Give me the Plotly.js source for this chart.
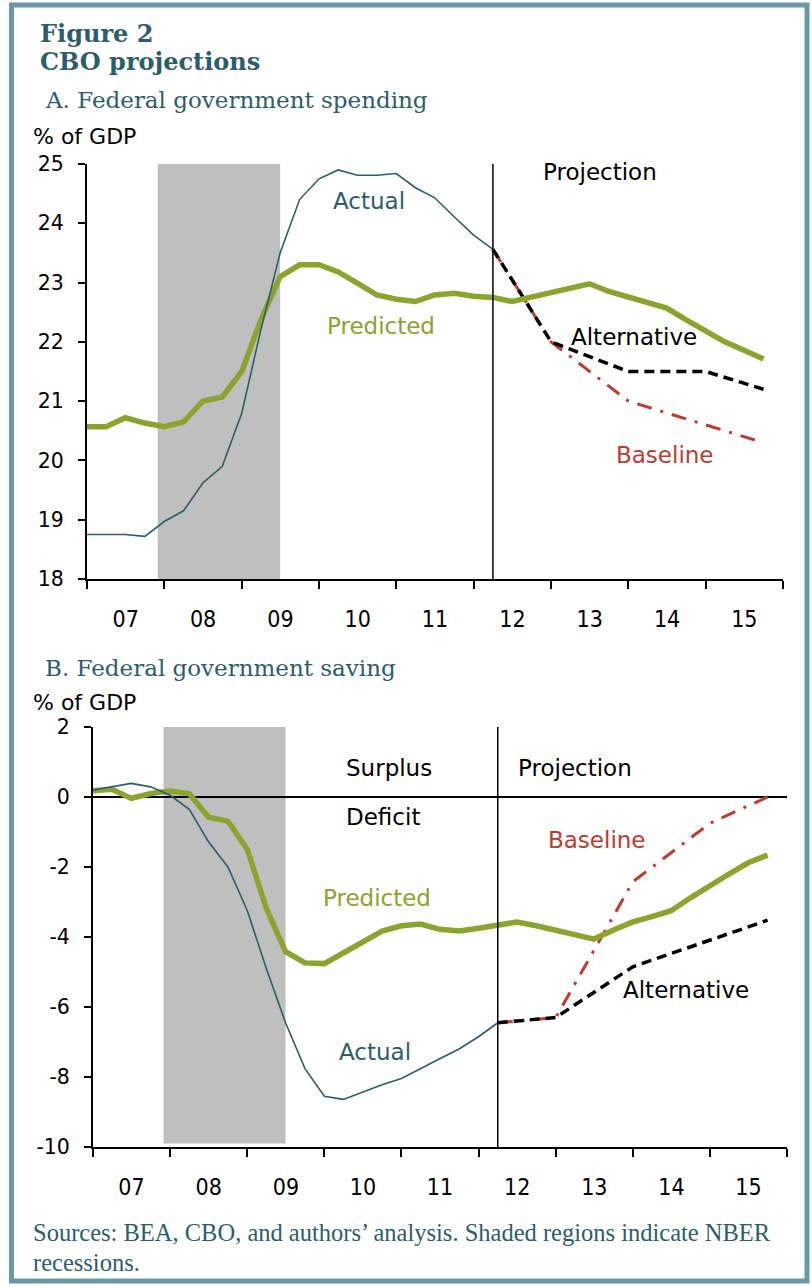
<!DOCTYPE html>
<html>
<head>
<meta charset="utf-8">
<script src="https://cdn.plot.ly/plotly-3.0.1.min.js"></script>
<style>
html,body{margin:0;padding:0;background:#fff;}
#chart{width:812px;height:1287px;}
</style>
</head>
<body>
<div id="chart"></div>
<script>
// ---- Data (percent of GDP), quarterly from 2007Q1 ----
const quarterStarts = (function(){ const a=[]; for(let y=2007;y<=2015;y++){ for(const m of ['01','04','07','10']) a.push(y+'-'+m+'-01'); } return a; })();
const projectionDates = ['2012-04-01','2013-01-01','2014-01-01','2015-01-01','2015-10-01'];
const recession = ['2007-12-01','2009-07-01'];
const projectionStart = '2012-04-01';

// Panel A: Federal government spending
const spendActual = [18.75,18.75,18.75,18.72,18.97,19.15,19.62,19.9,20.8,22.2,23.5,24.4,24.75,24.9,24.81,24.81,24.84,24.6,24.43,24.11,23.8,23.56];
const spendPredicted = [20.57,20.57,20.72,20.63,20.57,20.65,21.0,21.07,21.5,22.37,23.1,23.3,23.3,23.18,22.99,22.79,22.72,22.68,22.79,22.82,22.77,22.75,22.68,22.75,22.82,22.9,22.98,22.85,22.76,22.66,22.57,22.37,22.19,22.0,21.86,21.71];
const spendAlternative = [23.56,22.0,21.5,21.5,21.2];
const spendBaseline = [23.56,22.0,21.0,20.6,20.3];
const spendTicks = [18,19,20,21,22,23,24,25];

// Panel B: Federal government saving
const saveActual = [0.2,0.29,0.39,0.29,0.05,-0.35,-1.28,-2.0,-3.25,-4.9,-6.45,-7.76,-8.55,-8.64,-8.42,-8.22,-8.04,-7.75,-7.48,-7.2,-6.85,-6.45];
const savePredicted = [0.18,0.22,-0.04,0.1,0.17,0.09,-0.58,-0.69,-1.5,-3.18,-4.42,-4.74,-4.76,-4.45,-4.12,-3.83,-3.68,-3.63,-3.78,-3.83,-3.75,-3.66,-3.57,-3.68,-3.8,-3.93,-4.06,-3.8,-3.57,-3.42,-3.25,-2.88,-2.52,-2.2,-1.88,-1.66];
const saveAlternative = [-6.45,-6.3,-4.85,-4.08,-3.52];
const saveBaseline = [-6.45,-6.3,-2.42,-0.75,0.0];
const saveTicks = [-10,-8,-6,-4,-2,0,2];
const saveTickLabels = ['-10','-8','-6','-4','-2','0','2'];

// ---- Styling ----
const W = 812, H = 1287;
const px = x => x / W;
const py = y => 1 - y / H;
const TEAL = '#2c5d6c';
const GREEN = '#8ba42e';
const RED = '#bf3a30';
const BORDER = '#6a98a5';
const SANS = 'DejaVu Sans, Verdana, sans-serif';
const SERIF = 'DejaVu Serif, Georgia, serif';
const NARROW = 'Liberation Sans Narrow, DejaVu Sans Condensed, Arial Narrow, sans-serif';
const FOOT = 'Liberation Serif, Times New Roman, serif';

function traces(xa, ya, actual, predicted, alternative, baseline){
  return [
    {x: projectionDates, y: baseline, xaxis: xa, yaxis: ya, mode:'lines', line:{color:RED, width:3, dash:'15px,9px,3px,9px'}, hoverinfo:'skip'},
    {x: projectionDates, y: alternative, xaxis: xa, yaxis: ya, mode:'lines', line:{color:'#000', width:3.5, dash:'10px,6px'}, hoverinfo:'skip'},
    {x: quarterStarts.slice(0, predicted.length), y: predicted, xaxis: xa, yaxis: ya, mode:'lines', line:{color:GREEN, width:5.5}, hoverinfo:'skip'},
    {x: quarterStarts.slice(0, actual.length), y: actual, xaxis: xa, yaxis: ya, mode:'lines', line:{color:TEAL, width:1.6}, hoverinfo:'skip'}
  ];
}

const data = [].concat(
  traces('x','y', spendActual, spendPredicted, spendAlternative, spendBaseline),
  traces('x2','y2', saveActual, savePredicted, saveAlternative, saveBaseline)
);

function xAxis(x0, x1, anchor){
  return {
    domain:[px(x0), px(x1)], anchor: anchor, type:'date',
    range:['2007-01-01','2016-01-01'], tick0:'2007-01-01', dtick:'M12',
    tickformat:'%y', ticklabelmode:'period',
    ticks:'outside', ticklen:8, tickwidth:2, tickcolor:'#000',
    showline:true, linewidth:2, linecolor:'#000',
    showgrid:false, zeroline:false,
    tickfont:{family:NARROW, size:23, color:'#000'},
    ticklabelstandoff: 10
  };
}
function yAxis(top, bottom, range, vals, texts, anchor){
  return {
    domain:[py(bottom), py(top)], anchor: anchor, range: range,
    tickmode:'array', tickvals: vals, ticktext: texts,
    ticks:'outside', ticklen:7, tickwidth:2, tickcolor:'#000',
    showline:true, linewidth:2, linecolor:'#000',
    showgrid:false, zeroline:false,
    tickfont:{family:SANS, size:20.5, color:'#000'},
    ticklabelstandoff: 10
  };
}

const yA = yAxis(164, 579, [18, 25], spendTicks, spendTicks.map(String), 'x');
const yB = yAxis(727, 1147, [-10, 2], saveTicks, saveTickLabels, 'x2');
yB.zeroline = true; yB.zerolinecolor = '#000'; yB.zerolinewidth = 2;

function ann(text, x, y, color, size, family, weight){
  return {text: text, x: px(x), y: py(y), xref:'paper', yref:'paper', xanchor:'left', yanchor:'middle',
    showarrow:false, font:{family: family || SANS, size: size || 23, color: color || '#000', weight: weight || 400}};
}

const layout = {
  width: W, height: H,
  margin:{l:0, r:0, t:0, b:0},
  paper_bgcolor:'#fff', plot_bgcolor:'rgba(0,0,0,0)',
  showlegend:false,
  xaxis: xAxis(87, 783, 'y'),
  yaxis: yA,
  xaxis2: xAxis(93, 787, 'y2'),
  yaxis2: yB,
  shapes: [
    {type:'rect', xref:'paper', yref:'paper', x0:px(11.5), x1:px(807), y0:py(5), y1:py(1281), line:{color:BORDER, width:5}, fillcolor:'rgba(0,0,0,0)', layer:'above'},
    {type:'rect', xref:'x', yref:'y', x0:recession[0], x1:recession[1], y0:18, y1:25, fillcolor:'#bfbfbf', line:{width:0}, layer:'below'},
    {type:'rect', xref:'x2', yref:'y2', x0:recession[0], x1:recession[1], y0:-9.9, y1:2, fillcolor:'#bfbfbf', line:{width:0}, layer:'below'},
    {type:'line', xref:'x', yref:'y', x0:projectionStart, x1:projectionStart, y0:18, y1:25, line:{color:'#000', width:1.5}},
    {type:'line', xref:'x2', yref:'y2', x0:projectionStart, x1:projectionStart, y0:-10, y1:2, line:{color:'#000', width:1.5}}
  ],
  annotations: [
    ann('Figure 2', 38, 33, TEAL, 24, SERIF, 700),
    ann('CBO projections', 38, 62, TEAL, 24, SERIF, 700),
    ann('A. Federal government spending', 43, 100, TEAL, 23, SERIF),
    ann('% of GDP', 31, 137, '#000', 22),
    ann('Projection', 541, 172, '#000'),
    ann('Actual', 331, 201, TEAL),
    ann('Predicted', 325, 326, GREEN),
    ann('Alternative', 569, 337, '#000'),
    ann('Baseline', 614, 455, RED),
    ann('B. Federal government saving', 43, 668, TEAL, 23, SERIF),
    ann('% of GDP', 31, 702, '#000', 22),
    ann('Surplus', 344, 768, '#000'),
    ann('Projection', 516, 768, '#000'),
    ann('Deficit', 344, 817, '#000'),
    ann('Baseline', 546, 840, RED),
    ann('Predicted', 321, 898, GREEN),
    ann('Alternative', 621, 990, '#000'),
    ann('Actual', 337, 1052, TEAL),
    ann('Sources: BEA, CBO, and authors\u2019 analysis. Shaded regions indicate NBER', 31, 1232, TEAL, 24.5, FOOT),
    ann('recessions.', 31, 1262, TEAL, 24.5, FOOT)
  ]
};

Plotly.newPlot('chart', data, layout, {staticPlot:true, displayModeBar:false});
</script>
</body>
</html>
